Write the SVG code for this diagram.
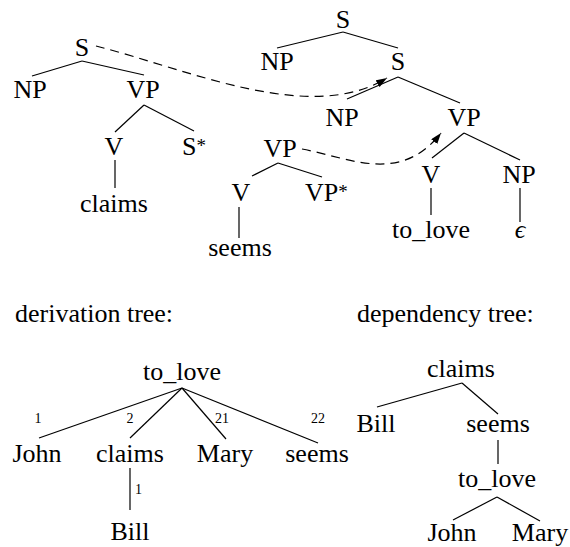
<svg xmlns="http://www.w3.org/2000/svg" width="570" height="547" viewBox="0 0 570 547">
<style>
text{font-size:26px;fill:#000;text-anchor:middle}
.st{text-anchor:start}
.sm{font-size:14px}
.edge line{stroke:#000;stroke-width:1.2}
.dash{fill:none;stroke:#000;stroke-width:1.2;stroke-dasharray:9 6}
</style>
<defs>
<marker id="ah" viewBox="0 0 10 7" refX="10" refY="3.5" markerWidth="11" markerHeight="8" markerUnits="userSpaceOnUse" orient="auto">
<path d="M0,0 L10,3.5 L0,7 z" fill="#000"/>
</marker>
</defs>
<rect width="570" height="547" fill="#fff"/>
<g id="connectors" class="edge">
<line x1="82" y1="61" x2="32" y2="76"/>
<line x1="82" y1="61" x2="144" y2="75"/>
<line x1="144" y1="105" x2="115" y2="132"/>
<line x1="144" y1="105" x2="194" y2="131"/>
<line x1="115" y1="160" x2="115" y2="188"/>
<line x1="278" y1="163" x2="252" y2="176"/>
<line x1="278" y1="163" x2="322" y2="177"/>
<line x1="239" y1="207" x2="239" y2="238"/>
<line x1="343" y1="32" x2="277" y2="48"/>
<line x1="343" y1="32" x2="398" y2="48"/>
<line x1="398" y1="77" x2="347" y2="99"/>
<line x1="398" y1="77" x2="460" y2="103"/>
<line x1="464" y1="133" x2="432" y2="158"/>
<line x1="464" y1="133" x2="520" y2="160"/>
<line x1="431" y1="188" x2="431" y2="215"/>
<line x1="520" y1="188" x2="520" y2="222"/>
<path class="dash" d="M96 46 C190 70, 310 125, 387 78" marker-end="url(#ah)"/>
<path class="dash" d="M302 149 C350 158, 400 185, 441 133" marker-end="url(#ah)"/>
<line x1="182" y1="388" x2="39" y2="438"/>
<line x1="182" y1="388" x2="130" y2="438"/>
<line x1="182" y1="388" x2="226" y2="439"/>
<line x1="182" y1="388" x2="318" y2="443"/>
<line x1="130" y1="468" x2="130" y2="510"/>
<line x1="462" y1="383" x2="377" y2="407"/>
<line x1="462" y1="383" x2="498" y2="414"/>
<line x1="498" y1="440" x2="498" y2="464"/>
<line x1="497" y1="497" x2="453" y2="520"/>
<line x1="497" y1="497" x2="540" y2="521"/>
</g>
<g font-family="'Liberation Serif', 'Times New Roman', serif">
<g id="claims-tree">
<g id="c-S"><text x="82" y="56">S</text></g>
<g id="c-NP"><text x="30" y="98">NP</text></g>
<g id="c-VP"><text x="143" y="98">VP</text></g>
<g id="c-V"><text x="114" y="155">V</text></g>
<g id="c-Sfoot"><text class="st" x="182" y="155">S<tspan font-size="19" dy="-3">*</tspan></text></g>
<g id="c-claims"><text x="114" y="212">claims</text></g>
</g>
<g id="seems-tree">
<g id="s-VP"><text x="280" y="157">VP</text></g>
<g id="s-V"><text x="241" y="201">V</text></g>
<g id="s-VPfoot"><text class="st" x="305" y="201">VP<tspan font-size="19" dy="-3">*</tspan></text></g>
<g id="s-seems"><text x="240" y="256">seems</text></g>
</g>
<g id="love-tree">
<g id="l-S"><text x="343" y="28">S</text></g>
<g id="l-NP1"><text x="277" y="70">NP</text></g>
<g id="l-S2"><text x="398" y="70">S</text></g>
<g id="l-NP2"><text x="342" y="126">NP</text></g>
<g id="l-VP"><text x="464" y="126">VP</text></g>
<g id="l-V"><text x="431" y="183">V</text></g>
<g id="l-NP3"><text x="519" y="183">NP</text></g>
<g id="l-tolove"><text x="431" y="238">to_love</text></g>
<g id="l-eps"><text x="520" y="238" font-style="italic" font-size="24">ϵ</text></g>
</g>
<g id="derivation">
<g id="d-title"><text class="st" x="15" y="322">derivation tree:</text></g>
<g id="d-tolove"><text x="182" y="380">to_love</text></g>
<g id="d-john"><text x="37" y="462">John</text></g>
<g id="d-claims"><text x="130" y="462">claims</text></g>
<g id="d-mary"><text x="225" y="462">Mary</text></g>
<g id="d-seems"><text x="317" y="462">seems</text></g>
<g id="d-bill"><text x="130" y="540">Bill</text></g>
<g id="d-labels">
<text class="sm" x="38" y="423">1</text>
<text class="sm" x="130" y="423">2</text>
<text class="sm" x="222" y="423">21</text>
<text class="sm" x="318" y="423">22</text>
<text class="sm st" x="135" y="494">1</text>
</g>
</g>
<g id="dependency">
<g id="p-title"><text class="st" x="357" y="322">dependency tree:</text></g>
<g id="p-claims"><text x="461" y="377">claims</text></g>
<g id="p-bill"><text x="376" y="432">Bill</text></g>
<g id="p-seems"><text x="498" y="432">seems</text></g>
<g id="p-tolove"><text x="497" y="487">to_love</text></g>
<g id="p-john"><text x="452" y="541">John</text></g>
<g id="p-mary"><text x="540" y="541">Mary</text></g>
</g>
</g>
</svg>
